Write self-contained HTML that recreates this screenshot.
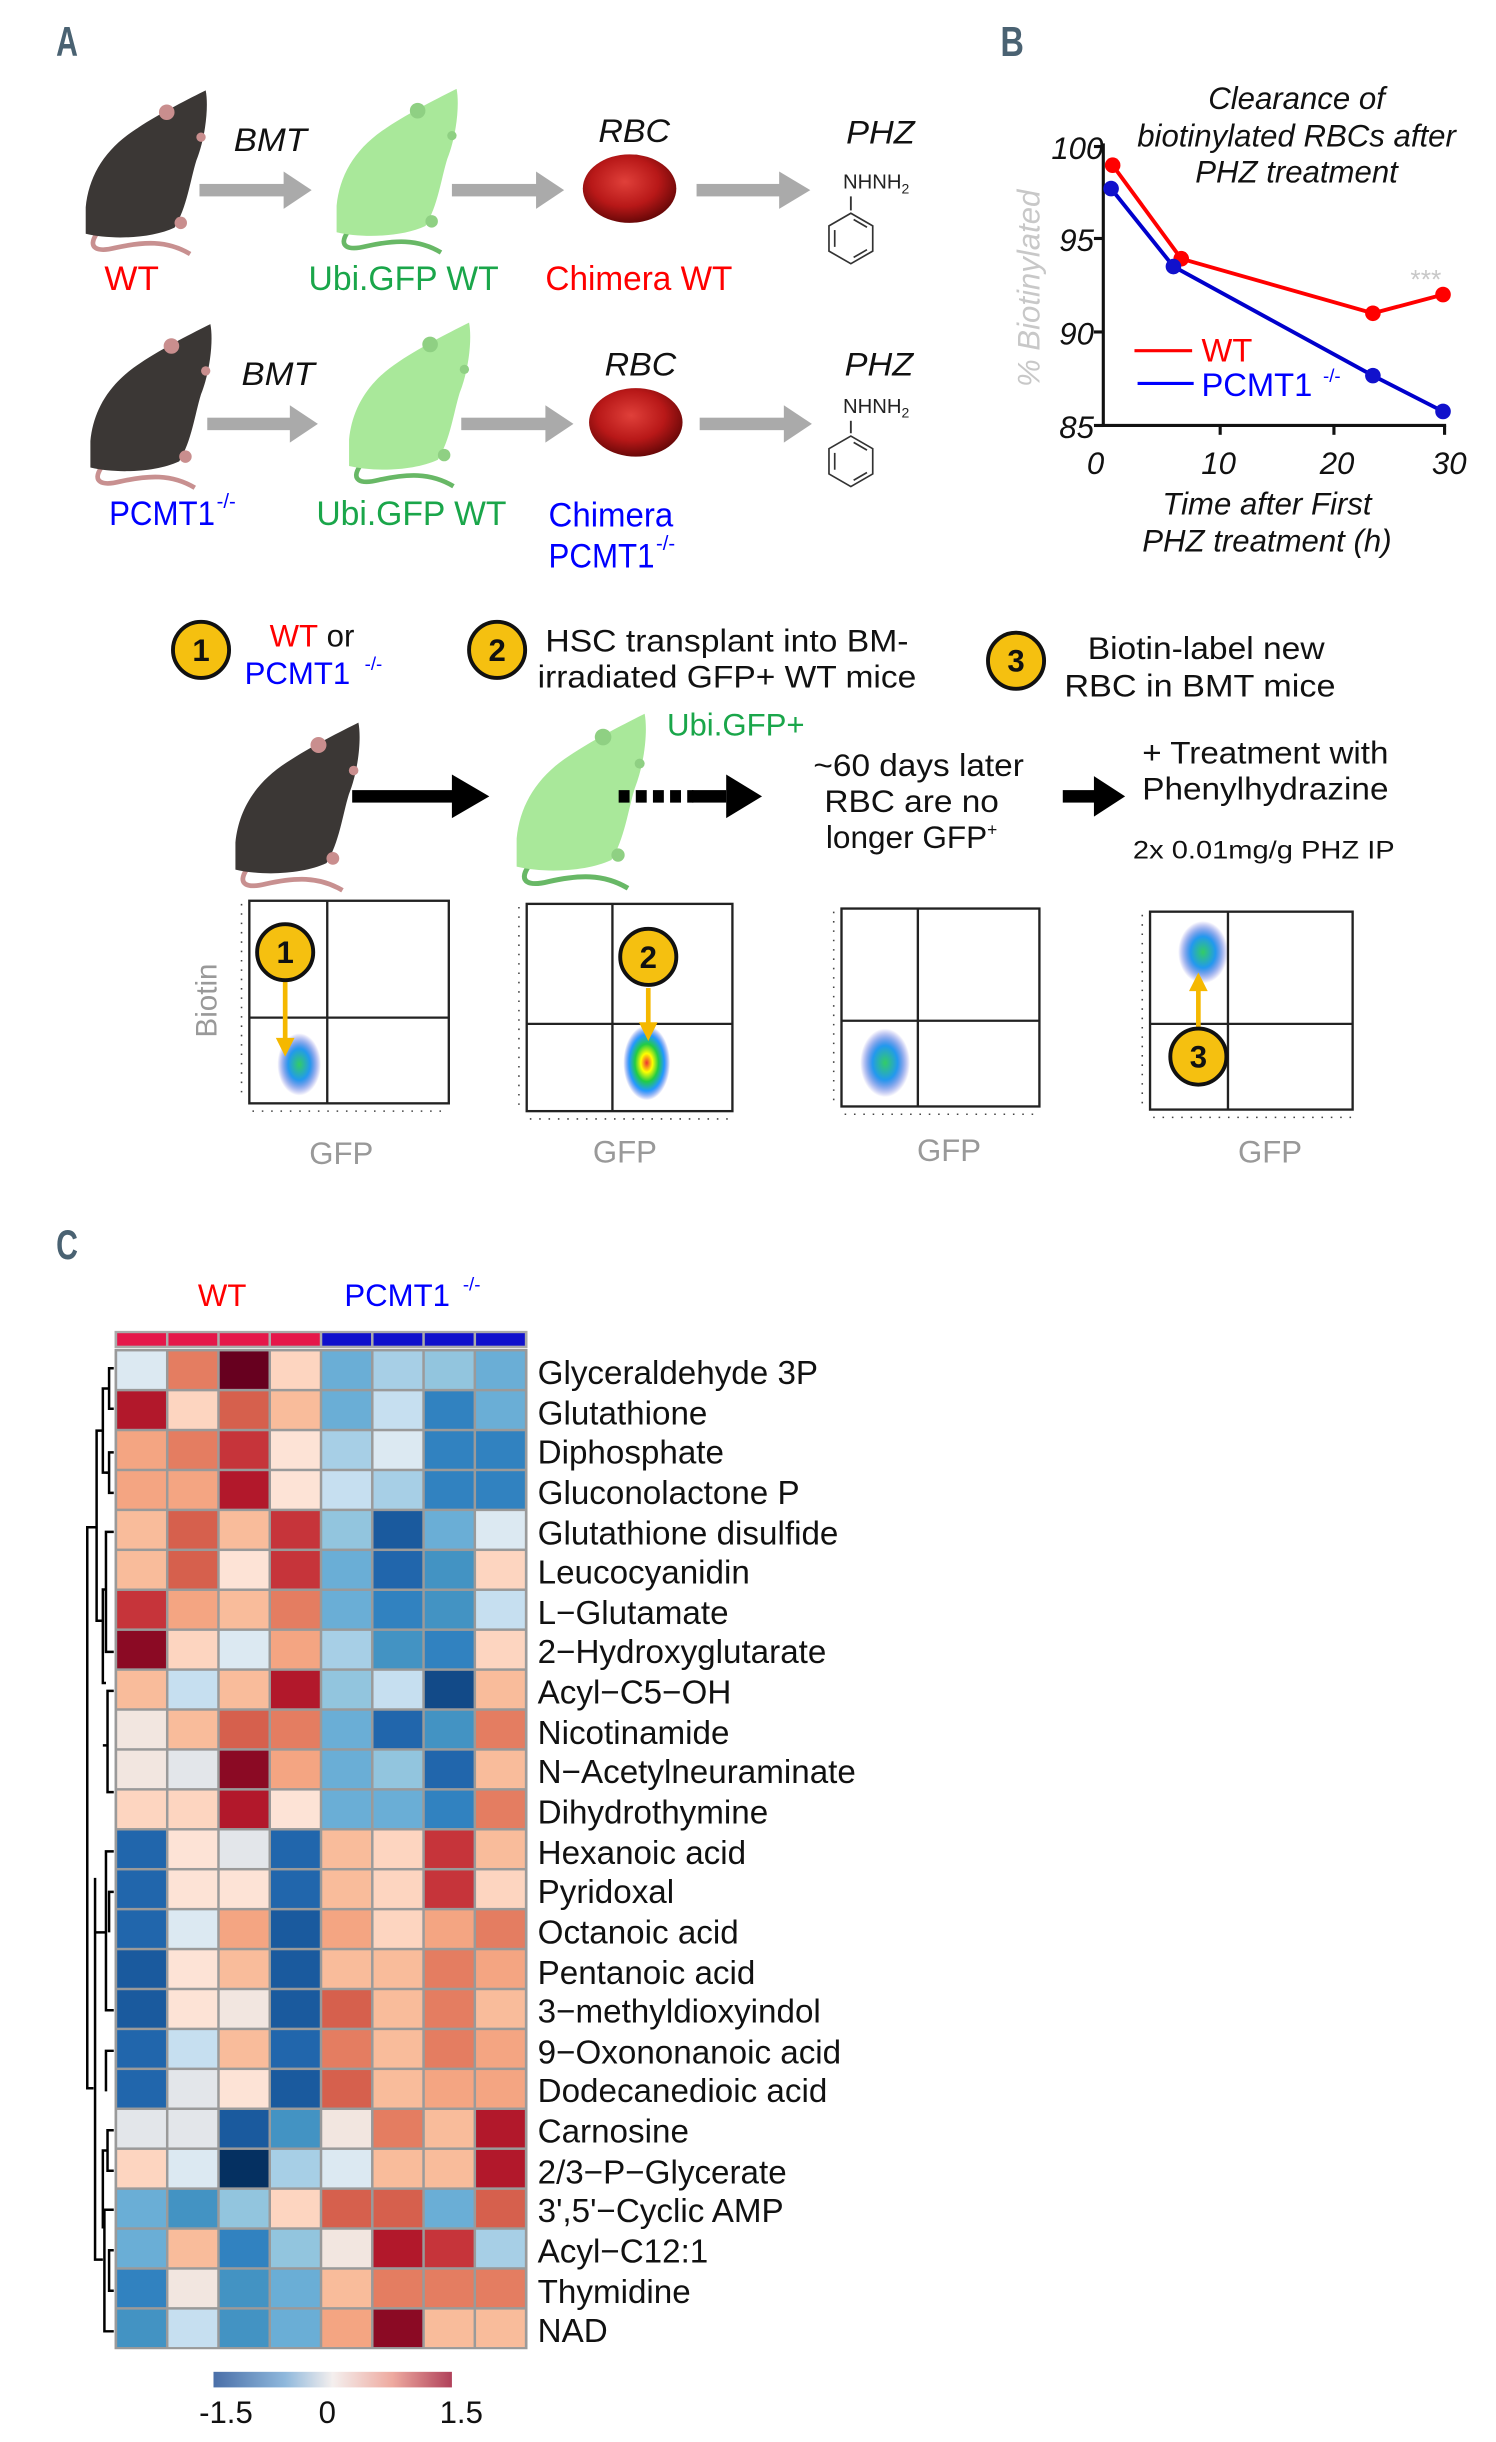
<!DOCTYPE html>
<html><head><meta charset="utf-8"><style>
html,body{margin:0;padding:0;background:#fff}
svg{display:block}
text{font-family:"Liberation Sans",sans-serif}
</style></head><body>
<svg id="s" xmlns="http://www.w3.org/2000/svg" width="1496" height="2442" viewBox="0 0 960 1567">
<defs>
<radialGradient id="rbc" cx="0.45" cy="0.4" r="0.6"><stop offset="0" stop-color="#e0403a"/><stop offset="0.6" stop-color="#b81818"/><stop offset="1" stop-color="#6a0808"/></radialGradient>
<radialGradient id="blob" cx="0.5" cy="0.5" r="0.5"><stop offset="0" stop-color="#e33"/><stop offset="0.25" stop-color="#ff0"/><stop offset="0.5" stop-color="#2c4"/><stop offset="0.75" stop-color="#29f"/><stop offset="1" stop-color="#24d" stop-opacity="0"/></radialGradient>
<radialGradient id="blob2" cx="0.5" cy="0.5" r="0.5"><stop offset="0" stop-color="#3c6"/><stop offset="0.5" stop-color="#29e"/><stop offset="1" stop-color="#22c" stop-opacity="0"/></radialGradient>
<symbol id="mouse" viewBox="0 0 80 105" overflow="visible">
<path d="M10,92 C4,101 10,104 22,101 C40,97 55,96 70,105" fill="none" stroke="var(--t)" stroke-width="3"/>
<path d="M80,0 C70,5 50,15 35,25 C15,38 5,55 3,75 L3,92 C20,96 45,95 60,88 C68,75 70,58 74,45 C80,30 82,10 80,0 Z" fill="var(--b)"/>
<circle cx="55" cy="14" r="5" fill="var(--e)"/>
<circle cx="77" cy="30" r="3" fill="var(--e)"/>
<circle cx="64" cy="85" r="4" fill="var(--e)"/>
</symbol>
<symbol id="benz" viewBox="-20 -20 40 40" overflow="visible">
<polygon points="0,-18 15.6,-9 15.6,9 0,18 -15.6,9 -15.6,-9" fill="none" stroke="#333" stroke-width="1.2"/>
<line x1="-11.5" y1="-6" x2="-11.5" y2="6" stroke="#333" stroke-width="1.2"/>
<line x1="2" y1="-13.5" x2="11.5" y2="-8" stroke="#333" stroke-width="1.2"/>
<line x1="2" y1="13.5" x2="11.5" y2="8" stroke="#333" stroke-width="1.2"/>
</symbol>
</defs>

<!-- Panel A -->
<text x="36" y="36" font-size="27" font-weight="bold" fill="#4a6272" textLength="14" lengthAdjust="spacingAndGlyphs">A</text>
<use href="#mouse" x="52" y="58" width="80" height="105" style="--b:#3b3735;--t:#c89090;--e:#c98e8e"/>
<use href="#mouse" x="210" y="57" width="86" height="105" style="--b:#a9e89a;--t:#68b866;--e:#8fd083"/>
<use href="#mouse" x="55" y="208" width="80" height="105" style="--b:#3b3735;--t:#c89090;--e:#c98e8e"/>
<use href="#mouse" x="218" y="207" width="86" height="105" style="--b:#a9e89a;--t:#68b866;--e:#8fd083"/>
<g fill="#aaa">
<rect x="128" y="118" width="56" height="8"/><polygon points="182,110 200,122 182,134"/>
<rect x="290" y="118" width="55" height="8"/><polygon points="344,110 362,122 344,134"/>
<rect x="447" y="118" width="55" height="8"/><polygon points="500,110 520,122 500,134"/>
<rect x="133" y="268" width="55" height="8"/><polygon points="186,260 204,272 186,284"/>
<rect x="296" y="268" width="55" height="8"/><polygon points="350,260 368,272 350,284"/>
<rect x="449" y="268" width="55" height="8"/><polygon points="503,260 521,272 503,284"/>
</g>
<ellipse cx="404" cy="121" rx="30" ry="22" fill="url(#rbc)"/>
<ellipse cx="408" cy="271" rx="30" ry="22" fill="url(#rbc)"/>
<g font-style="italic" font-size="21" fill="#111">
<text x="150" y="97" textLength="47" lengthAdjust="spacingAndGlyphs">BMT</text>
<text x="384" y="91" textLength="46" lengthAdjust="spacingAndGlyphs">RBC</text>
<text x="543" y="92" textLength="44" lengthAdjust="spacingAndGlyphs">PHZ</text>
<text x="155" y="247" textLength="47" lengthAdjust="spacingAndGlyphs">BMT</text>
<text x="388" y="241" textLength="46" lengthAdjust="spacingAndGlyphs">RBC</text>
<text x="542" y="241" textLength="44" lengthAdjust="spacingAndGlyphs">PHZ</text>
</g>
<text x="541" y="121" font-size="13" fill="#222">NHNH<tspan font-size="9" dy="3">2</tspan></text>
<line x1="546" y1="126" x2="546" y2="135" stroke="#333" stroke-width="1.2"/>
<use href="#benz" x="528" y="135" width="36" height="36"/>
<text x="541" y="265" font-size="13" fill="#222">NHNH<tspan font-size="9" dy="3">2</tspan></text>
<line x1="546" y1="270" x2="546" y2="278" stroke="#333" stroke-width="1.2"/>
<use href="#benz" x="528" y="278" width="36" height="36"/>
<g font-size="22">
<text x="67" y="186" fill="#f00" textLength="35" lengthAdjust="spacingAndGlyphs">WT</text>
<text x="198" y="186" fill="#1aa64a" textLength="122" lengthAdjust="spacingAndGlyphs">Ubi.GFP WT</text>
<text x="350" y="186" fill="#f00" textLength="120" lengthAdjust="spacingAndGlyphs">Chimera WT</text>
<text x="70" y="337" fill="#00f" textLength="68" lengthAdjust="spacingAndGlyphs">PCMT1</text><text x="139" y="326" fill="#00f" font-size="13">-/-</text>
<text x="203" y="337" fill="#1aa64a" textLength="122" lengthAdjust="spacingAndGlyphs">Ubi.GFP WT</text>
<text x="352" y="338" fill="#00f" textLength="80" lengthAdjust="spacingAndGlyphs">Chimera</text>
<text x="352" y="364" fill="#00f" textLength="68" lengthAdjust="spacingAndGlyphs">PCMT1</text><text x="421" y="353" fill="#00f" font-size="13">-/-</text>
</g>

<!-- Panel B -->
<text x="642" y="36" font-size="27" font-weight="bold" fill="#4a6272" textLength="15" lengthAdjust="spacingAndGlyphs">B</text>
<g font-style="italic" font-size="20" fill="#111" text-anchor="middle">
<text x="832" y="70">Clearance of</text>
<text x="832" y="94">biotinylated RBCs after</text>
<text x="832" y="117">PHZ treatment</text>
<text x="813" y="330">Time after First</text>
<text x="813" y="354">PHZ treatment (h)</text>
</g>
<g stroke="#111" stroke-width="2" fill="none">
<line x1="708" y1="92" x2="708" y2="274"/><line x1="707" y1="273" x2="928" y2="273"/>
<line x1="702" y1="94" x2="708" y2="94"/><line x1="702" y1="153" x2="708" y2="153"/><line x1="702" y1="213" x2="708" y2="213"/><line x1="702" y1="273" x2="708" y2="273"/>
<line x1="783" y1="273" x2="783" y2="279"/><line x1="856" y1="273" x2="856" y2="279"/><line x1="927" y1="273" x2="927" y2="279"/>
</g>
<g font-style="italic" font-size="20" fill="#111" text-anchor="end">
<text x="708" y="102">100</text><text x="702" y="161">95</text><text x="702" y="221">90</text><text x="702" y="281">85</text>
</g>
<g font-style="italic" font-size="20" fill="#111" text-anchor="middle">
<text x="703" y="304">0</text><text x="782" y="304">10</text><text x="858" y="304">20</text><text x="930" y="304">30</text>
</g>
<text transform="translate(667,185) rotate(-90)" font-style="italic" font-size="20" fill="#c8c8c8" text-anchor="middle">% Biotinylated</text>
<text x="915" y="185" font-size="17" fill="#c8c8c8" text-anchor="middle">***</text>
<polyline points="714,106 758,166 881,201 926,189" fill="none" stroke="#f00" stroke-width="2.5"/>
<polyline points="713,121 753,171 881,241 926,264" fill="none" stroke="#00c" stroke-width="2.5"/>
<g fill="#f00"><circle cx="714" cy="106" r="5"/><circle cx="758" cy="166" r="5"/><circle cx="881" cy="201" r="5"/><circle cx="926" cy="189" r="5"/></g>
<g fill="#11c"><circle cx="713" cy="121" r="5"/><circle cx="753" cy="171" r="5"/><circle cx="881" cy="241" r="5"/><circle cx="926" cy="264" r="5"/></g>
<line x1="728" y1="225" x2="765" y2="225" stroke="#f00" stroke-width="2"/>
<line x1="730" y1="246" x2="766" y2="246" stroke="#00f" stroke-width="2"/>
<text x="771" y="232" font-size="21" fill="#f00">WT</text>
<text x="771" y="254" font-size="21" fill="#00f">PCMT1</text><text x="849" y="245" font-size="12" fill="#00f">-/-</text>

<!-- Middle section -->
<g stroke="#111" stroke-width="2.5" fill="#f5c010">
<circle cx="129" cy="417" r="18"/><circle cx="319" cy="417" r="18"/><circle cx="652" cy="424" r="18"/>
</g>
<g font-size="20" font-weight="bold" fill="#111" text-anchor="middle">
<text x="129" y="424">1</text><text x="319" y="424">2</text><text x="652" y="431">3</text>
</g>
<g font-size="20" fill="#111">
<text x="173" y="415"><tspan fill="#f00">WT</tspan> or</text>
<text x="157" y="439" fill="#00f">PCMT1</text><text x="234" y="430" fill="#00f" font-size="12">-/-</text>
<text x="350" y="418" textLength="233" lengthAdjust="spacingAndGlyphs">HSC transplant into BM-</text>
<text x="345" y="441" textLength="243" lengthAdjust="spacingAndGlyphs">irradiated GFP+ WT mice</text>
<text x="698" y="423" textLength="152" lengthAdjust="spacingAndGlyphs">Biotin-label new</text>
<text x="683" y="447" textLength="174" lengthAdjust="spacingAndGlyphs">RBC  in BMT mice</text>
<text x="428" y="472" fill="#1aa64a">Ubi.GFP+</text>
<text x="522" y="498" textLength="135" lengthAdjust="spacingAndGlyphs">~60 days later</text>
<text x="529" y="521" textLength="112" lengthAdjust="spacingAndGlyphs">RBC are no</text>
<text x="530" y="544" textLength="110" lengthAdjust="spacingAndGlyphs">longer GFP<tspan font-size="11" dy="-8">+</tspan></text>
<text x="733" y="490" textLength="158" lengthAdjust="spacingAndGlyphs">+ Treatment with</text>
<text x="733" y="513" textLength="158" lengthAdjust="spacingAndGlyphs">Phenylhydrazine</text>
<text x="727" y="551" font-size="16" textLength="168" lengthAdjust="spacingAndGlyphs">2x 0.01mg/g PHZ IP</text>
</g>
<use href="#mouse" x="148" y="460" width="82" height="115" style="--b:#3b3735;--t:#c89090;--e:#c98e8e"/>
<use href="#mouse" x="328" y="458" width="86" height="112" style="--b:#a9e89a;--t:#68b866;--e:#8fd083"/>
<rect x="226" y="507" width="66" height="8" fill="#000"/><polygon points="290,497 314,511 290,525" fill="#000"/>
<line x1="397" y1="511" x2="445" y2="511" stroke="#000" stroke-width="8" stroke-dasharray="7,4"/>
<rect x="444" y="507" width="22" height="8" fill="#000"/><polygon points="466,497 489,511 466,525" fill="#000"/>
<rect x="682" y="507" width="22" height="8" fill="#000"/><polygon points="702,498 722,511 702,524" fill="#000"/>

<!-- flow plots -->
<g fill="none" stroke="#222" stroke-width="1.5">
<rect x="160" y="578" width="128" height="130"/><line x1="210" y1="578" x2="210" y2="708"/><line x1="160" y1="653" x2="288" y2="653"/>
<rect x="338" y="580" width="132" height="133"/><line x1="393" y1="580" x2="393" y2="713"/><line x1="338" y1="657" x2="470" y2="657"/>
<rect x="540" y="583" width="127" height="127"/><line x1="589" y1="583" x2="589" y2="710"/><line x1="540" y1="655" x2="667" y2="655"/>
<rect x="738" y="585" width="130" height="127"/><line x1="788" y1="585" x2="788" y2="712"/><line x1="738" y1="657" x2="868" y2="657"/>
</g>
<g stroke="#444" stroke-width="1" stroke-dasharray="1,5">
<line x1="162" y1="713" x2="288" y2="713"/><line x1="340" y1="718" x2="470" y2="718"/><line x1="542" y1="715" x2="667" y2="715"/><line x1="740" y1="717" x2="868" y2="717"/>
<line x1="155" y1="580" x2="155" y2="706"/><line x1="333" y1="582" x2="333" y2="711"/><line x1="535" y1="585" x2="535" y2="708"/><line x1="733" y1="587" x2="733" y2="710"/>
</g>
<ellipse cx="192" cy="683" rx="14" ry="20" fill="url(#blob2)"/>
<ellipse cx="415" cy="682" rx="15" ry="24" fill="url(#blob)"/>
<ellipse cx="568" cy="682" rx="16" ry="22" fill="url(#blob2)"/>
<ellipse cx="772" cy="611" rx="16" ry="20" fill="url(#blob2)"/>
<g stroke="#f5b800" stroke-width="3" fill="#f5b800">
<line x1="183" y1="630" x2="183" y2="668"/><polygon points="177,666 189,666 183,678" stroke="none"/>
<line x1="416" y1="634" x2="416" y2="658"/><polygon points="410,656 422,656 416,668" stroke="none"/>
<line x1="769" y1="660" x2="769" y2="634"/><polygon points="763,636 775,636 769,624" stroke="none"/>
</g>
<g stroke="#111" stroke-width="2.5" fill="#f5c010">
<circle cx="183" cy="611" r="18"/><circle cx="416" cy="614" r="18"/><circle cx="769" cy="678" r="18"/>
</g>
<g font-size="20" font-weight="bold" fill="#111" text-anchor="middle">
<text x="183" y="618">1</text><text x="416" y="621">2</text><text x="769" y="685">3</text>
</g>
<text transform="translate(139,642) rotate(-90)" font-size="19" fill="#999" text-anchor="middle">Biotin</text>
<g font-size="20" fill="#999" text-anchor="middle">
<text x="219" y="747">GFP</text><text x="401" y="746">GFP</text><text x="609" y="745">GFP</text><text x="815" y="746">GFP</text>
</g>

<!-- Panel C -->
<text x="36" y="808" font-size="27" font-weight="bold" fill="#4a6272" textLength="14" lengthAdjust="spacingAndGlyphs">C</text>
<text x="127" y="838" font-size="20" fill="#f00">WT</text>
<text x="221" y="838" font-size="20" fill="#00f">PCMT1</text><text x="297" y="828" font-size="12" fill="#00f">-/-</text>
<rect x="73.5" y="854" width="265" height="11" fill="#aaa"/>
<rect x="73.5" y="865.5" width="265" height="642" fill="#9a9a9a"/>
<g id="hm"></g>
<g stroke="#000" stroke-width="1.6" fill="none">
<path d="M73,878 H70 V904 H73"/><path d="M70,891 H66 V945 H70"/><path d="M73,932 H70 V958 H73"/><path d="M70,945 H68"/>
<path d="M66,918 H62 V1040 H66"/><path d="M73,983 H68 V1060 H73"/><path d="M68,1020 H66 V1080 H68"/><path d="M73,1085 H69 V1150 H73"/><path d="M69,1120 H66"/>
<path d="M62,980 H56 V1340 H60"/>
<path d="M73,1188 H68 V1290 H73"/><path d="M68,1240 H61"/><path d="M73,1214 H70 V1240"/><path d="M73,1316 H68 V1342"/>
<path d="M61,1205 V1450 H66"/><path d="M73,1367 H69 V1393 H73"/><path d="M69,1380 H66 V1430"/><path d="M73,1418 H67 V1496 H73"/><path d="M73,1444 H70 V1470 H73"/>
</g>
<g font-size="21.3" fill="#111">
<text x="345" y="888">Glyceraldehyde 3P</text>
<text x="345" y="914">Glutathione</text>
<text x="345" y="939">Diphosphate</text>
<text x="345" y="965">Gluconolactone P</text>
<text x="345" y="991">Glutathione disulfide</text>
<text x="345" y="1016">Leucocyanidin</text>
<text x="345" y="1042">L−Glutamate</text>
<text x="345" y="1067">2−Hydroxyglutarate</text>
<text x="345" y="1093">Acyl−C5−OH</text>
<text x="345" y="1119">Nicotinamide</text>
<text x="345" y="1144">N−Acetylneuraminate</text>
<text x="345" y="1170">Dihydrothymine</text>
<text x="345" y="1196">Hexanoic acid</text>
<text x="345" y="1221">Pyridoxal</text>
<text x="345" y="1247">Octanoic acid</text>
<text x="345" y="1273">Pentanoic acid</text>
<text x="345" y="1298">3−methyldioxyindol</text>
<text x="345" y="1324">9−Oxononanoic acid</text>
<text x="345" y="1349">Dodecanedioic acid</text>
<text x="345" y="1375">Carnosine</text>
<text x="345" y="1401">2/3−P−Glycerate</text>
<text x="345" y="1426">3',5'−Cyclic AMP</text>
<text x="345" y="1452">Acyl−C12:1</text>
<text x="345" y="1478">Thymidine</text>
<text x="345" y="1503">NAD</text>
</g>
<defs><linearGradient id="cb"><stop offset="0" stop-color="#4a6fa8"/><stop offset="0.3" stop-color="#8fb8dc"/><stop offset="0.5" stop-color="#f4efee"/><stop offset="0.75" stop-color="#eeaaa0"/><stop offset="1" stop-color="#b0415a"/></linearGradient></defs>
<rect x="137" y="1522" width="153" height="10" fill="url(#cb)"/>
<g font-size="20" fill="#111" text-anchor="middle"><text x="145" y="1555">-1.5</text><text x="210" y="1555">0</text><text x="296" y="1555">1.5</text></g>
</svg>
<script>
var P={dr:"#67001f",r9:"#8b0a24",r8:"#b2182b",r7:"#c6343a",r6:"#d6604d",r5:"#e47d61",r4:"#f4a582",r3:"#f9bc9b",r2:"#fdd5c0",r1:"#fde3d6",n:"#f2e6e0",g:"#e3e6ea",b1:"#dce9f2",b2:"#c6dff0",b3:"#a7cfe6",b4:"#92c5de",b5:"#6aaed6",b6:"#4393c3",b7:"#3182c0",b8:"#2166ac",b9:"#1a5a9e",bd:"#124a88",bdd:"#053061"};
var R=[
"b1 r5 dr r2 b5 b3 b4 b5","r8 r2 r6 r3 b5 b2 b7 b5","r4 r5 r7 r1 b3 b1 b7 b7","r4 r4 r8 r1 b2 b3 b7 b7",
"r3 r6 r3 r7 b4 b9 b5 b1","r3 r6 r1 r7 b5 b8 b6 r2","r7 r4 r3 r5 b5 b7 b6 b2","r9 r2 b1 r4 b3 b6 b7 r2",
"r3 b2 r3 r8 b4 b2 bd r3","n r3 r6 r5 b5 b8 b6 r5","n g r9 r4 b5 b4 b8 r3","r2 r2 r8 r1 b5 b5 b7 r5",
"b8 r1 g b8 r3 r2 r7 r3","b8 r1 r1 b8 r3 r2 r7 r2","b8 b1 r4 b9 r4 r2 r4 r5","b9 r1 r3 b9 r3 r3 r5 r4",
"b9 r1 n b9 r6 r3 r5 r3","b8 b2 r3 b8 r5 r3 r5 r4","b8 g r1 b9 r6 r3 r4 r4","g g b9 b6 n r5 r3 r8",
"r2 b1 bdd b3 b1 r3 r3 r8","b5 b6 b4 r2 r6 r6 b5 r6","b5 r3 b7 b4 n r8 r7 b3","b7 n b6 b5 r3 r5 r5 r5",
"b6 b2 b6 b5 r4 r9 r3 r3"];
var ns="http://www.w3.org/2000/svg",hm=document.getElementById("hm");
var x0=74.4,cw=32.9,y0=866.4,rh=25.62;
function rc(x,y,w,h,f){var r=document.createElementNS(ns,"rect");r.setAttribute("x",x);r.setAttribute("y",y);r.setAttribute("width",w);r.setAttribute("height",h);r.setAttribute("fill",f);hm.appendChild(r);}
for(var c=0;c<8;c++)rc(x0+c*cw+0.8,855.5,cw-1.6,8,c<4?"#e5174a":"#1010cc");
R.forEach(function(row,i){row.split(" ").forEach(function(k,j){rc(x0+j*cw+0.8,y0+i*rh+0.8,cw-1.6,rh-1.6,P[k]);});});
</script>
</body></html>
